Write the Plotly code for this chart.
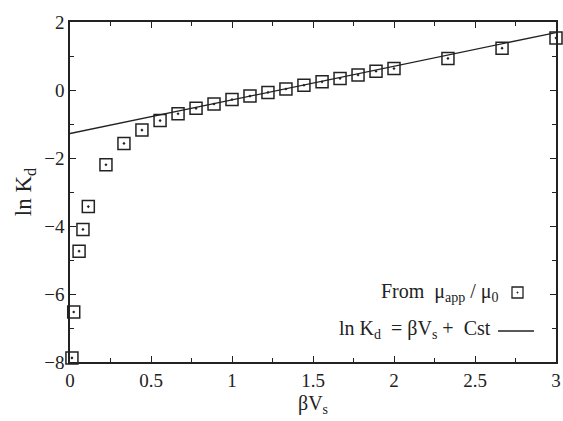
import plotly.graph_objects as go

# Data
beta_vs = [0.012, 0.023, 0.056, 0.080, 0.113, 0.222, 0.333, 0.444, 0.556, 0.667,
           0.778, 0.889, 1.000, 1.111, 1.222, 1.333, 1.444, 1.556, 1.667, 1.778,
           1.889, 2.000, 2.333, 2.667, 3.000]
ln_kd = [-7.88, -6.53, -4.74, -4.10, -3.43, -2.20, -1.57, -1.18, -0.90, -0.70,
         -0.54, -0.41, -0.28, -0.18, -0.07, 0.03, 0.14, 0.24, 0.34, 0.44,
         0.55, 0.63, 0.93, 1.23, 1.53]
fit_x = [0.0, 3.0]
fit_y = [-1.28, 1.69]

x_ticks = [0, 0.5, 1, 1.5, 2, 2.5, 3]
x_tick_labels = ["0", "0.5", "1", "1.5", "2", "2.5", "3"]
y_ticks = [-8, -6, -4, -2, 0, 2]

FONT = "Liberation Serif"
INK = "#222222"

fig = go.Figure()
fig.add_trace(go.Scatter(
    x=fit_x, y=fit_y, mode="lines",
    line=dict(color=INK, width=1.3), showlegend=False,
))
fig.add_trace(go.Scatter(
    x=beta_vs, y=ln_kd, mode="markers", cliponaxis=False,
    marker=dict(symbol="square-open-dot", size=12, color=INK,
                line=dict(color=INK, width=1.5)),
    showlegend=False,
))

axis_common = dict(
    showgrid=False, zeroline=False, showline=True, linecolor=INK, linewidth=1.5,
    mirror="ticks", ticks="inside", ticklen=6, tickwidth=1.3, tickcolor=INK,
    tickfont=dict(family=FONT, size=19, color=INK), automargin=False,
)

fig.update_xaxes(
    range=[0, 3], tickmode="array", tickvals=x_ticks, ticktext=x_tick_labels,
    minor=dict(ticks="inside", ticklen=4, tickwidth=1.2, tickcolor=INK, dtick=0.25, tick0=0),
    title=dict(text="βV<sub>s</sub>", font=dict(family=FONT, size=20, color=INK), standoff=6),
    **axis_common,
)
fig.update_yaxes(
    range=[-8, 2], tickmode="array", tickvals=y_ticks,
    minor=dict(ticks="inside", ticklen=4, tickwidth=1.2, tickcolor=INK, dtick=1, tick0=0),
    title=dict(text="ln K<sub>d</sub>", font=dict(family=FONT, size=23, color=INK), standoff=6),
    **axis_common,
)

# Legend (text on the left, key on the right, as in the reference)
L, R, T, B = 70, 556, 22, 362
def px(xp):
    return (xp - L) / (R - L)
def py(yp):
    return (B - yp) / (B - T)

fig.add_annotation(
    xref="paper", yref="paper", x=px(501), y=py(292), xanchor="right", yanchor="middle",
    text="From  μ<sub>app</sub> / μ<sub>0</sub>", showarrow=False,
    font=dict(family=FONT, size=20, color=INK),
)
fig.add_annotation(
    xref="paper", yref="paper", x=px(493), y=py(329), xanchor="right", yanchor="middle",
    text="ln K<sub>d</sub>  = βV<sub>s</sub> +  Cst", showarrow=False,
    font=dict(family=FONT, size=20, color=INK),
)
fig.add_shape(type="rect", xref="paper", yref="paper",
              x0=px(512), x1=px(523), y0=py(298), y1=py(287),
              line=dict(color=INK, width=1.3))
fig.add_shape(type="circle", xref="paper", yref="paper",
              x0=px(516.8), x1=px(518.2), y0=py(293.2), y1=py(291.8),
              line=dict(color=INK, width=0.5), fillcolor=INK)
fig.add_shape(type="line", xref="paper", yref="paper",
              x0=px(498), x1=px(534), y0=py(331), y1=py(331),
              line=dict(color=INK, width=1.3))

fig.update_layout(
    width=563, height=421,
    margin=dict(l=L, r=563 - R, t=T, b=421 - B),
    paper_bgcolor="white", plot_bgcolor="white",
    font=dict(family=FONT, color=INK),
)

fig.write_html(
    "out.html",
    config={"displayModeBar": False},
    post_script="document.body.style.margin='0';document.body.style.overflow='hidden';",
)
